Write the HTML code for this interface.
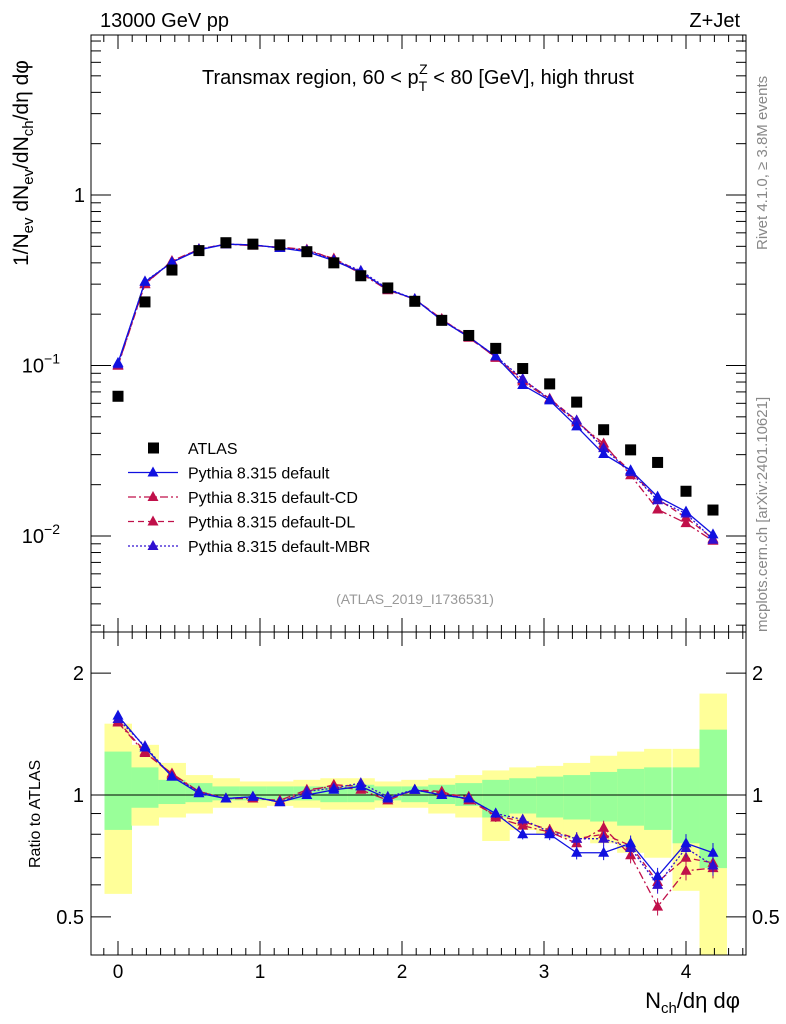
<!DOCTYPE html>
<html><head><meta charset="utf-8"><style>
body{margin:0;background:#fff}
svg{display:block;font-family:"Liberation Sans",sans-serif}
</style></head><body>
<svg id="c" width="786" height="1024" viewBox="0 0 786 1024">
<g id="bands"></g>
<g id="axes"></g>
<g id="series"></g>
<g id="texts">
<text x="100" y="27" font-size="20">13000 GeV pp</text>
<text x="740" y="27" font-size="20" text-anchor="end">Z+Jet</text>
<text x="418" y="84" font-size="20" text-anchor="middle">Transmax region, 60 &lt; p<tspan font-size="14" dy="7">T</tspan><tspan font-size="14" dx="-8" dy="-17">Z</tspan><tspan dy="10"> &lt; 80 [GeV], high thrust</tspan></text>
<text x="415" y="604" font-size="14" fill="#999" text-anchor="middle">(ATLAS_2019_I1736531)</text>
<text transform="translate(767,250) rotate(-90)" font-size="15" fill="#888">Rivet 4.1.0, ≥ 3.8M events</text>
<text transform="translate(767,632) rotate(-90)" font-size="15" fill="#888">mcplots.cern.ch [arXiv:2401.10621]</text>
<text transform="translate(28,266) rotate(-90)" font-size="21">1/N<tspan font-size="15" dy="5">ev</tspan><tspan dy="-5"> dN</tspan><tspan font-size="15" dy="5">ev</tspan><tspan dy="-5">/dN</tspan><tspan font-size="15" dy="5">ch</tspan><tspan dy="-5">/dη dφ</tspan></text>
<text transform="translate(40,868) rotate(-90)" font-size="16">Ratio to ATLAS</text>
<text x="740" y="1008" font-size="22" text-anchor="end">N<tspan font-size="15" dy="5">ch</tspan><tspan dy="-5">/dη dφ</tspan></text>
</g>
<g id="legend"></g>
</svg>
<script>
const xs=[0,0.19,0.38,0.57,0.76,0.95,1.14,1.33,1.52,1.71,1.9,2.09,2.28,2.47,2.66,2.85,3.04,3.23,3.42,3.61,3.8,4.0,4.19];
const atlas=[0.066,0.236,0.363,0.472,0.525,0.515,0.51,0.465,0.4,0.336,0.285,0.238,0.184,0.15,0.126,0.096,0.078,0.061,0.042,0.032,0.027,0.0183,0.0142];
const rDefault=[1.57,1.31,1.11,1.01,0.98,0.99,0.96,1.0,1.03,1.05,0.98,1.03,1.0,0.98,0.9,0.8,0.8,0.72,0.72,0.76,0.63,0.76,0.72];
const rCD=[1.51,1.27,1.13,1.02,0.98,0.98,0.97,1.03,1.05,1.03,0.97,1.03,1.01,0.99,0.88,0.84,0.81,0.76,0.83,0.71,0.53,0.65,0.66];
const rDL=[1.52,1.28,1.12,1.02,0.98,0.99,0.96,1.02,1.06,1.05,0.98,1.03,1.02,0.97,0.89,0.86,0.82,0.78,0.8,0.75,0.61,0.7,0.68];
const rMBR=[1.54,1.32,1.11,1.02,0.98,0.99,0.96,1.02,1.04,1.07,0.99,1.03,1.0,0.98,0.9,0.87,0.81,0.78,0.78,0.74,0.6,0.74,0.67];
const yelLo=[0.57,0.84,0.88,0.9,0.93,0.93,0.94,0.93,0.92,0.92,0.93,0.93,0.9,0.88,0.77,0.82,0.8,0.78,0.76,0.72,0.7,0.58,0.4];
const yelHi=[1.5,1.33,1.2,1.12,1.1,1.08,1.08,1.09,1.1,1.1,1.08,1.09,1.1,1.12,1.15,1.17,1.18,1.2,1.25,1.28,1.3,1.3,1.78];
const grnLo=[0.82,0.93,0.95,0.96,0.97,0.97,0.97,0.97,0.96,0.96,0.97,0.96,0.95,0.94,0.88,0.9,0.88,0.87,0.86,0.84,0.82,0.76,0.66];
const grnHi=[1.28,1.17,1.09,1.07,1.05,1.05,1.05,1.05,1.05,1.06,1.05,1.05,1.06,1.07,1.09,1.1,1.11,1.12,1.14,1.16,1.17,1.17,1.45];
const NS="http://www.w3.org/2000/svg";
const L=91,R=746,T1=35,B1=632,B2=955;
const X=v=>118+v*142;
const Y1=v=>195-Math.log10(v)*170.5;
const Y2=v=>795-Math.log10(v)*405;
function el(tag,attrs,parent){const e=document.createElementNS(NS,tag);for(const k in attrs)e.setAttribute(k,attrs[k]);parent.appendChild(e);return e;}
const gB=document.getElementById('bands'),gA=document.getElementById('axes'),gS=document.getElementById('series'),gL=document.getElementById('legend');
const hw=0.095;
xs.forEach((x,i)=>{
 const yb=Math.max(Y2(yelHi[i]),B1),yt=Math.min(Y2(yelLo[i]),B2);
 let r=el('rect',{x:X(x-hw),y:yb,width:X(x+hw)-X(x-hw)+0.5,height:yt-yb,fill:'#ffff99'},gB);
 
 
 const gb=Y2(grnHi[i]),gt=Y2(grnLo[i]);
 r=el('rect',{x:X(x-hw),y:gb,width:X(x+hw)-X(x-hw)+0.5,height:gt-gb,fill:'#99ff99'},gB);
 
 
});
[[T1,B1],[B1,B2]].forEach(([t,b],k)=>{
 const f=el('rect',{x:L,y:t,width:R-L,height:b-t,fill:'none',stroke:'#000','stroke-width':1},gA);
 
 
 for(let v=-0.2;v<=4.41;v+=0.1){const px=X(v);if(px<L||px>R)continue;const maj=Math.abs(v-Math.round(v))<1e-6;const len=maj?14:7;
  el('line',{x1:px,y1:b,x2:px,y2:b-len,stroke:'#000'},gA);el('line',{x1:px,y1:t,x2:px,y2:t+len,stroke:'#000'},gA);}
});
const l1=el('line',{x1:L,y1:795,x2:R,y2:795,stroke:'#000'},gA);


[0,1,2,3,4].forEach(v=>{const t=el('text',{x:X(v),y:978,'font-size':19,'text-anchor':'middle'},gA);t.textContent=v;
 
 });
for(let d=-3;d<=0;d++)for(let m=1;m<10;m++){const v=m*Math.pow(10,d);const py=Y1(v);if(py<T1||py>B1)continue;const len=m==1?20:10;
 el('line',{x1:L,y1:py,x2:L+len,y2:py,stroke:'#000'},gA);el('line',{x1:R,y1:py,x2:R-len,y2:py,stroke:'#000'},gA);}
const yl=[["1",""],["10","−1"],["10","−2"]];
[1,0.1,0.01].forEach((v,i)=>{const t=el('text',{x:i?60:85,y:Y1(v)+7,'font-size':20,'text-anchor':'end'},gA);t.textContent=yl[i][0];
 if(yl[i][1]){const s=el('tspan',{'font-size':14,dy:-9},t);s.textContent=yl[i][1];}
 
 });
[0.5,0.6,0.7,0.8,0.9,1,2].forEach(v=>{const py=Y2(v);const len=(v==0.5||v==1||v==2)?20:10;
 el('line',{x1:L,y1:py,x2:L+len,y2:py,stroke:'#000'},gA);el('line',{x1:R,y1:py,x2:R-len,y2:py,stroke:'#000'},gA);});
[["2",2],["1",1],["0.5",0.5]].forEach(([s,v])=>{[[84,'end'],[752,'start']].forEach(([x,a])=>{const t=el('text',{x:x,y:Y2(v)+7,'font-size':20,'text-anchor':a},gA);t.textContent=s;
 
 });});
const series=[
 {r:rCD,c:'#c0104a',dash:'8,3,2,3',dn:'series-default-cd'},
 {r:rDL,c:'#c0104a',dash:'6,4',dn:'series-default-dl'},
 {r:rMBR,c:'#3010d0',dash:'2,2',dn:'series-default-mbr'},
 {r:rDefault,c:'#1010e0',dash:'',dn:'series-default'}];
function tri(x,y,c,p){return el('path',{d:`M${x},${y-6}L${x+5.5},${y+4}L${x-5.5},${y+4}Z`,fill:c},p);}
series.forEach(s=>{
 const g=el('g',{},gS);
 const p1=xs.map((x,i)=>X(x)+','+Y1(atlas[i]*s.r[i])).join(' ');
 const p2=xs.map((x,i)=>X(x)+','+Y2(s.r[i])).join(' ');
 el('polyline',{points:p1,fill:'none',stroke:s.c,'stroke-width':1.3,'stroke-dasharray':s.dash},g);
 el('polyline',{points:p2,fill:'none',stroke:s.c,'stroke-width':1.3,'stroke-dasharray':s.dash},g);
 xs.forEach((x,i)=>{
  let m=tri(X(x),Y1(atlas[i]*s.r[i]),s.c,g);
  m=tri(X(x),Y2(s.r[i]),s.c,g);
  if(i>=14){const e=0.025+0.004*(i-14);el('line',{x1:X(x),y1:Y2(s.r[i]*(1+e)),x2:X(x),y2:Y2(s.r[i]*(1-e)),stroke:s.c},g);}
 });
});
const ga=el('g',{},gS);
xs.forEach((x,i)=>{const m=el('rect',{x:X(x)-5.5,y:Y1(atlas[i])-5.5,width:11,height:11,fill:'#000'},ga);
 });
const leg=[{n:'ATLAS',c:'#000',sq:1,d:''},{n:'Pythia 8.315 default',c:'#1010e0',d:''},{n:'Pythia 8.315 default-CD',c:'#c0104a',d:'8,3,2,3'},{n:'Pythia 8.315 default-DL',c:'#c0104a',d:'6,4'},{n:'Pythia 8.315 default-MBR',c:'#3010d0',d:'2,2'}];
leg.forEach((o,i)=>{const y=448+i*24.5;const g=el('g',{},gL);
 if(o.sq)el('rect',{x:148,y:y-5.5,width:11,height:11,fill:'#000'},g);
 else{el('line',{x1:128,y1:y,x2:178,y2:y,stroke:o.c,'stroke-width':1.3,'stroke-dasharray':o.d},g);tri(153,y,o.c,g);}
 const t=el('text',{x:188,y:y+6,'font-size':16},g);t.textContent=o.n;});
</script>
</body></html>
